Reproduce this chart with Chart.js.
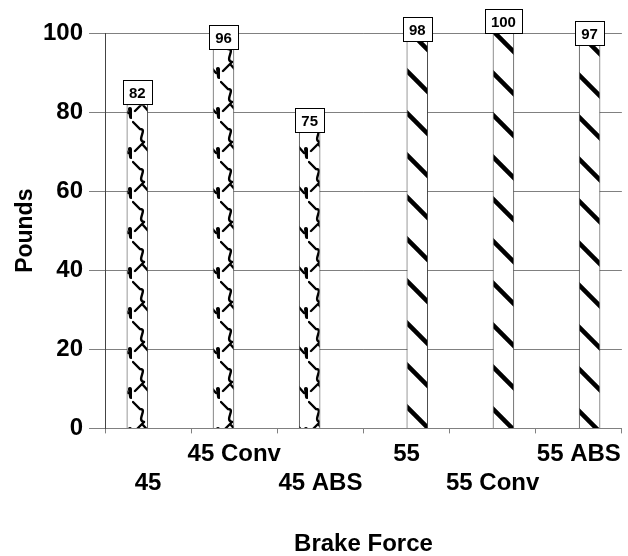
<!DOCTYPE html>
<html lang="en">
<head>
    <meta charset="UTF-8">
    <title>Brake Force</title>
    <script src="https://cdn.jsdelivr.net/npm/chart.js@4.4.1/dist/chart.umd.min.js"></script>
    <style>
        body { margin: 0; background: #fff; }
        #wrap { width: 628px; height: 556px; }
    </style>
</head>
<body>
<div id="wrap">
    <canvas id="brakeChart" width="628" height="556"></canvas>
</div>

<script>
    // chart data
    const categories = ['45', '45 Conv', '45 ABS', '55', '55 Conv', '55 ABS'];
    const speed45 = [82, 96, 75, null, null, null];
    const speed55 = [null, null, null, 98, 100, 97];
    const yTicks = [0, 20, 40, 60, 80, 100];

    const FONT = '"Liberation Sans", Arial, sans-serif';

    // wavy chain pattern for the 45 mph bars
    function chainPattern() {
        const c = document.createElement('canvas');
        c.width = 22;
        c.height = 40;
        const g = c.getContext('2d');
        g.fillStyle = '#fff';
        g.fillRect(0, 0, 22, 40);
        g.strokeStyle = '#000';
        g.lineWidth = 2.4;
        g.lineCap = 'round';
        g.beginPath();
        g.moveTo(1, 2);
        g.lineTo(8, 9);
        g.bezierCurveTo(16, 9, 4, 20, 12, 22);
        g.moveTo(11, 23);
        g.lineTo(3, 31);
        g.moveTo(11, 25);
        g.lineTo(18, 33);
        g.stroke();
        g.lineWidth = 4;
        g.beginPath();
        g.moveTo(20, 29);
        g.lineTo(21, 37);
        g.stroke();
        return g.createPattern(c, 'repeat');
    }

    // thick diagonal stripes for the 55 mph bars
    function stripePattern() {
        const c = document.createElement('canvas');
        c.width = 42;
        c.height = 42;
        const g = c.getContext('2d');
        g.fillStyle = '#fff';
        g.fillRect(0, 0, 42, 42);
        g.strokeStyle = '#000';
        g.lineWidth = 4.5;
        g.beginPath();
        g.moveTo(-5, -5);
        g.lineTo(47, 47);
        g.moveTo(-5, 37);
        g.lineTo(5, 47);
        g.moveTo(37, -5);
        g.lineTo(47, 5);
        g.stroke();
        return g.createPattern(c, 'repeat');
    }

    // boxed value labels on top of each bar
    const boxLabels = {
        id: 'boxLabels',
        afterDatasetsDraw(chart) {
            const ctx = chart.ctx;
            ctx.save();
            ctx.font = 'bold 15px ' + FONT;
            ctx.textAlign = 'center';
            ctx.textBaseline = 'middle';
            chart.data.datasets.forEach((ds, di) => {
                chart.getDatasetMeta(di).data.forEach((bar, i) => {
                    const v = ds.data[i];
                    if (v === null) return;
                    const txt = String(v);
                    const w = Math.round(ctx.measureText(txt).width + 12);
                    const h = 24;
                    const x = Math.round(bar.x - w / 2) + 0.5;
                    const y = Math.round(bar.y - h) + 0.5;
                    ctx.fillStyle = '#fff';
                    ctx.fillRect(x, y, w, h);
                    ctx.strokeStyle = '#000';
                    ctx.lineWidth = 1;
                    ctx.strokeRect(x, y, w, h);
                    ctx.fillStyle = '#000';
                    ctx.fillText(txt, bar.x, y + h / 2 + 1);
                });
            });
            ctx.restore();
        }
    };

    new Chart(document.getElementById('brakeChart'), {
        type: 'bar',
        data: {
            labels: categories,
            datasets: [
                {
                    label: '45',
                    data: speed45,
                    backgroundColor: chainPattern(),
                    borderColor: '#333',
                    borderWidth: 1
                },
                {
                    label: '55',
                    data: speed55,
                    backgroundColor: stripePattern(),
                    borderColor: '#333',
                    borderWidth: 1
                }
            ]
        },
        options: {
            responsive: false,
            animation: false,
            layout: { padding: { top: 33, right: 2, left: 14, bottom: 0 } },
            datasets: {
                bar: { categoryPercentage: 0.5, barPercentage: 1 }
            },
            plugins: {
                legend: { display: false },
                tooltip: { enabled: false }
            },
            scales: {
                x: {
                    grid: { drawOnChartArea: false, color: '#808080', tickLength: 5 },
                    border: { color: '#808080' },
                    ticks: {
                        autoSkip: false,
                        maxRotation: 0,
                        color: '#000',
                        padding: 7,
                        font: { family: FONT, size: 24, weight: 'bold', lineHeight: 1.2 },
                        callback: (v, i) => i % 2 === 0 ? ['', categories[i]] : [categories[i], '']
                    },
                    title: {
                        display: true,
                        text: 'Brake Force',
                        color: '#000',
                        font: { family: FONT, size: 24, weight: 'bold', lineHeight: 1 },
                        padding: { top: 27, bottom: 0 }
                    }
                },
                y: {
                    min: 0,
                    max: 100,
                    afterBuildTicks: axis => { axis.ticks = yTicks.map(v => ({ value: v })); },
                    grid: { color: '#808080', tickLength: 16 },
                    border: { color: '#444' },
                    ticks: {
                        color: '#000',
                        padding: 6,
                        font: { family: FONT, size: 24, weight: 'bold' }
                    },
                    title: {
                        display: true,
                        text: 'Pounds',
                        color: '#000',
                        font: { family: FONT, size: 23, weight: 'bold', lineHeight: 1 },
                        padding: { top: 0, bottom: 0 }
                    }
                }
            }
        },
        plugins: [boxLabels]
    });
</script>
</body>
</html>
